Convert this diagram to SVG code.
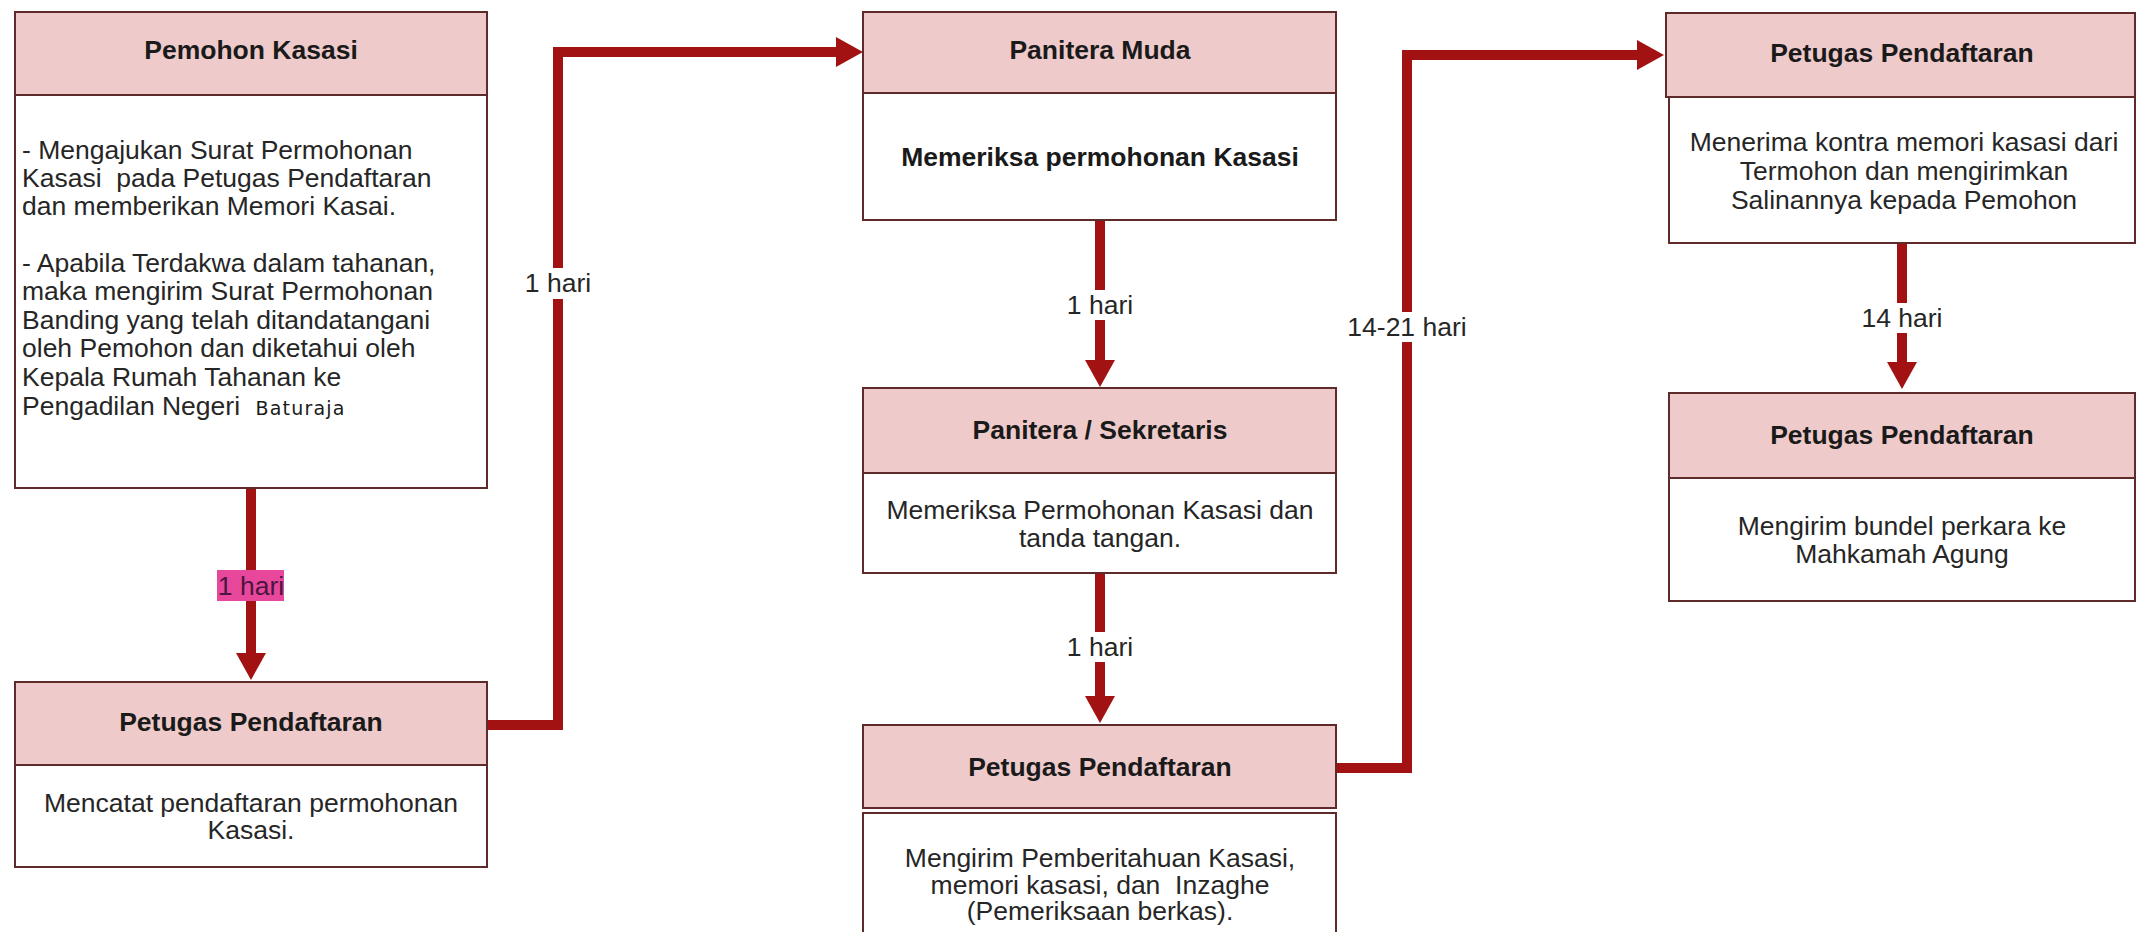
<svg xmlns="http://www.w3.org/2000/svg" width="2137" height="932" viewBox="0 0 2137 932">
<style>
.hd{fill:#EFCACB;stroke:#5E2A2A;stroke-width:2}
.bd{fill:#FFFFFF;stroke:#5E2A2A;stroke-width:2}
.ht{font-family:"Liberation Sans",Arial,sans-serif;font-size:26.5px;font-weight:bold;fill:#1A1A1A;text-anchor:middle}
.bt{font-family:"Liberation Sans",Arial,sans-serif;font-size:26.5px;fill:#262626;text-anchor:middle}
.bl{font-family:"Liberation Sans",Arial,sans-serif;font-size:26.5px;fill:#262626}
.sm{font-family:"DejaVu Sans",Verdana,sans-serif;font-size:19px;fill:#1A1A1A;letter-spacing:1.2px}
.cn{fill:none;stroke:#A31212;stroke-width:10;stroke-linejoin:miter;stroke-linecap:butt}
.lb{font-family:"Liberation Sans",Arial,sans-serif;font-size:26.5px;fill:#262626;text-anchor:middle}
.gap{fill:#FFFFFF}
</style>
<defs>
<marker id="ah" markerUnits="userSpaceOnUse" markerWidth="28" markerHeight="30" refX="0" refY="15" orient="auto">
<path d="M0,0 L27,15 L0,30 Z" fill="#A31212"/>
</marker>
</defs>
<rect x="0" y="0" width="2137" height="932" fill="#FFFFFF"/>

<g id="connectors">
<polyline class="cn" points="251,488 251,653" marker-end="url(#ah)"/>
<polyline class="cn" points="487,725 558,725 558,52 836,52" marker-end="url(#ah)"/>
<polyline class="cn" points="1100,220 1100,360" marker-end="url(#ah)"/>
<polyline class="cn" points="1100,573 1100,696" marker-end="url(#ah)"/>
<polyline class="cn" points="1336,768 1407,768 1407,55 1637,55" marker-end="url(#ah)"/>
<polyline class="cn" points="1902,243 1902,362" marker-end="url(#ah)"/>
<rect x="217" y="570" width="67" height="31" fill="#E8489B"/>
<text class="lb" x="251" y="595" style="fill:#4A1540">1 hari</text>
<rect class="gap" x="524" y="268" width="68" height="31"/>
<text class="lb" x="558" y="292">1 hari</text>
<rect class="gap" x="1066" y="290" width="68" height="30"/>
<text class="lb" x="1100" y="314">1 hari</text>
<rect class="gap" x="1066" y="632" width="68" height="30"/>
<text class="lb" x="1100" y="656">1 hari</text>
<rect class="gap" x="1345" y="312" width="125" height="30"/>
<text class="lb" x="1407" y="336">14-21 hari</text>
<rect class="gap" x="1860" y="303" width="84" height="30"/>
<text class="lb" x="1902" y="327">14 hari</text>
</g>

<g id="node-pemohon-kasasi">
<rect class="hd" x="15" y="12" width="472" height="83"/>
<rect class="bd" x="15" y="95" width="472" height="393"/>
<text class="ht" x="251" y="59">Pemohon Kasasi</text>
<text class="bl" x="22" y="159">- Mengajukan Surat Permohonan</text>
<text class="bl" x="22" y="187" xml:space="preserve">Kasasi  pada Petugas Pendaftaran</text>
<text class="bl" x="22" y="215">dan memberikan Memori Kasai.</text>
<text class="bl" x="22" y="272">- Apabila Terdakwa dalam tahanan,</text>
<text class="bl" x="22" y="300">maka mengirim Surat Permohonan</text>
<text class="bl" x="22" y="329">Banding yang telah ditandatangani</text>
<text class="bl" x="22" y="357">oleh Pemohon dan diketahui oleh</text>
<text class="bl" x="22" y="386">Kepala Rumah Tahanan ke</text>
<text class="bl" x="22" y="415">Pengadilan Negeri <tspan class="sm" dx="8">Baturaja</tspan></text>
</g>

<g id="node-petugas-pendaftaran-1">
<rect class="hd" x="15" y="682" width="472" height="83"/>
<rect class="bd" x="15" y="765" width="472" height="102"/>
<text class="ht" x="251" y="731">Petugas Pendaftaran</text>
<text class="bt" x="251" y="812">Mencatat pendaftaran permohonan</text>
<text class="bt" x="251" y="839">Kasasi.</text>
</g>

<g id="node-panitera-muda">
<rect class="hd" x="863" y="12" width="473" height="81"/>
<rect class="bd" x="863" y="93" width="473" height="127"/>
<text class="ht" x="1100" y="59">Panitera Muda</text>
<text class="ht" x="1100" y="166">Memeriksa permohonan Kasasi</text>
</g>

<g id="node-panitera-sekretaris">
<rect class="hd" x="863" y="388" width="473" height="85"/>
<rect class="bd" x="863" y="473" width="473" height="100"/>
<text class="ht" x="1100" y="439">Panitera / Sekretaris</text>
<text class="bt" x="1100" y="519">Memeriksa Permohonan Kasasi dan</text>
<text class="bt" x="1100" y="547">tanda tangan.</text>
</g>

<g id="node-petugas-pendaftaran-2">
<rect class="hd" x="863" y="725" width="473" height="83"/>
<rect class="bd" x="863" y="813" width="473" height="140"/>
<text class="ht" x="1100" y="776">Petugas Pendaftaran</text>
<text class="bt" x="1100" y="867">Mengirim Pemberitahuan Kasasi,</text>
<text class="bt" x="1100" y="894" xml:space="preserve">memori kasasi, dan  Inzaghe</text>
<text class="bt" x="1100" y="920">(Pemeriksaan berkas).</text>
</g>

<g id="node-petugas-pendaftaran-3">
<rect class="hd" x="1666" y="13" width="469" height="84"/>
<rect class="bd" x="1669" y="97" width="466" height="146"/>
<text class="ht" x="1902" y="62">Petugas Pendaftaran</text>
<text class="bt" x="1904" y="151">Menerima kontra memori kasasi dari</text>
<text class="bt" x="1904" y="180">Termohon dan mengirimkan</text>
<text class="bt" x="1904" y="209">Salinannya kepada Pemohon</text>
</g>

<g id="node-petugas-pendaftaran-4">
<rect class="hd" x="1669" y="393" width="466" height="85"/>
<rect class="bd" x="1669" y="478" width="466" height="123"/>
<text class="ht" x="1902" y="444">Petugas Pendaftaran</text>
<text class="bt" x="1902" y="535">Mengirim bundel perkara ke</text>
<text class="bt" x="1902" y="563">Mahkamah Agung</text>
</g>
</svg>
